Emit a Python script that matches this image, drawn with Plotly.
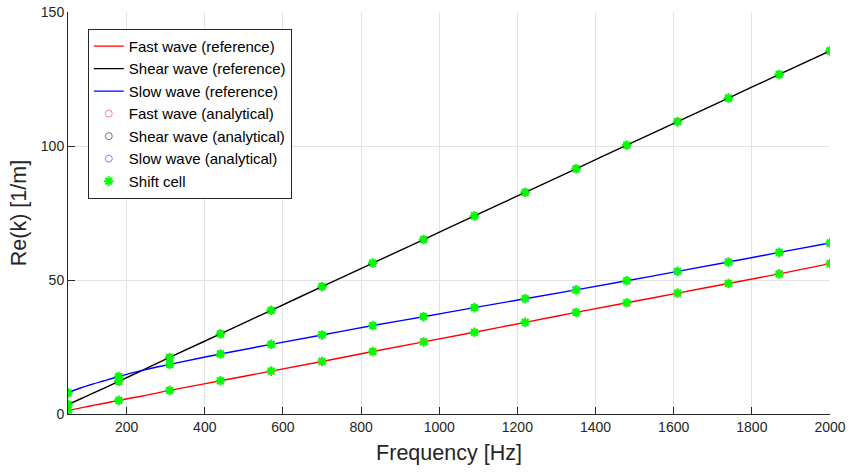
import plotly.graph_objects as go

# Sample frequencies (Hz) for analytical / shift-cell points
freq_pts = [50, 180, 310, 440, 570, 700, 830, 960, 1090, 1220, 1350, 1480, 1610, 1740, 1870, 2000]
fast_pts = [1.4, 5.1, 8.8, 12.4, 16.0, 19.6, 23.3, 26.9, 30.5, 34.2, 37.9, 41.5, 45.1, 48.7, 52.3, 56.1]
shear_pts = [3.5, 12.2, 21.1, 29.9, 38.7, 47.5, 56.3, 65.1, 73.9, 82.7, 91.5, 100.3, 109.1, 117.9, 126.7, 135.5]
slow_pts = [7.9, 14.0, 18.5, 22.4, 26.0, 29.5, 33.0, 36.3, 39.7, 43.0, 46.3, 49.7, 53.2, 56.7, 60.3, 63.8]

# Reference curves (denser at low frequency)
freq_ref = [50, 80, 110, 140, 180, 240, 310, 440, 570, 700, 830, 960, 1090, 1220, 1350, 1480, 1610, 1740, 1870, 2000]
fast_ref = [1.4, 2.2, 3.1, 3.9, 5.1, 6.7, 8.8, 12.4, 16.0, 19.6, 23.3, 26.9, 30.5, 34.2, 37.9, 41.5, 45.1, 48.7, 52.3, 56.1]
shear_ref = [3.5, 5.5, 7.5, 9.5, 12.2, 16.3, 21.1, 29.9, 38.7, 47.5, 56.3, 65.1, 73.9, 82.7, 91.5, 100.3, 109.1, 117.9, 126.7, 135.5]
slow_ref = [7.9, 9.6, 11.0, 12.3, 14.0, 16.3, 18.5, 22.4, 26.0, 29.5, 33.0, 36.3, 39.7, 43.0, 46.3, 49.7, 53.2, 56.7, 60.3, 63.8]

x_ticks = [200, 400, 600, 800, 1000, 1200, 1400, 1600, 1800, 2000]
y_ticks = [0, 50, 100, 150]

FONT = "Liberation Sans, Arial, sans-serif"
AX = "#262626"

fig = go.Figure()
fig.add_trace(go.Scatter(x=freq_ref, y=fast_ref, mode="lines", name="Fast wave (reference)",
                         line=dict(color="#ff0000", width=1.4), line_shape="spline"))
fig.add_trace(go.Scatter(x=freq_ref, y=shear_ref, mode="lines", name="Shear wave (reference)",
                         line=dict(color="#000000", width=1.4), line_shape="spline"))
fig.add_trace(go.Scatter(x=freq_ref, y=slow_ref, mode="lines", name="Slow wave (reference)",
                         line=dict(color="#0000ff", width=1.4), line_shape="spline"))
fig.add_trace(go.Scatter(x=freq_pts, y=fast_pts, mode="markers", name="Fast wave (analytical)",
                         marker=dict(symbol="circle-open", size=7, color="rgba(255,80,80,0.7)", line=dict(width=1))))
fig.add_trace(go.Scatter(x=freq_pts, y=shear_pts, mode="markers", name="Shear wave (analytical)",
                         marker=dict(symbol="circle-open", size=7, color="rgba(60,60,60,0.7)", line=dict(width=1))))
fig.add_trace(go.Scatter(x=freq_pts, y=slow_pts, mode="markers", name="Slow wave (analytical)",
                         marker=dict(symbol="circle-open", size=7, color="rgba(80,80,255,0.7)", line=dict(width=1))))
for i, yy in enumerate([fast_pts, shear_pts, slow_pts]):
    fig.add_trace(go.Scatter(x=freq_pts, y=yy, mode="markers", name="Shift cell",
                             showlegend=(i == 0),
                             marker=dict(symbol="asterisk-open", size=8, color="#00ff00",
                                         line=dict(width=2, color="#00ff00"))))

fig.update_layout(
    width=851, height=472,
    margin=dict(l=68, r=21, t=12, b=58, autoexpand=False),
    paper_bgcolor="white", plot_bgcolor="white",
    font=dict(family=FONT, size=14, color=AX),
    showlegend=True,
    legend=dict(x=0.026, y=0.958, xanchor="left", yanchor="top",
                bgcolor="white", bordercolor="#262626", borderwidth=1,
                font=dict(size=15, color="#000000"), tracegroupgap=0,
                itemwidth=30),
)
fig.update_xaxes(range=[50, 2000], tickvals=x_ticks, showgrid=True, gridcolor="#e3e3e3",
                 showline=True, linecolor=AX, linewidth=1, ticks="inside", ticklen=7,
                 tickcolor=AX, zeroline=False, mirror=False, automargin=False,
                 title=dict(text="Frequency [Hz]", font=dict(size=21.5, color=AX), standoff=11),
                 tickfont=dict(size=14, color=AX))
fig.update_yaxes(range=[0, 150], tickvals=y_ticks, showgrid=True, gridcolor="#e3e3e3",
                 showline=True, linecolor=AX, linewidth=1, ticks="inside", ticklen=7,
                 tickcolor=AX, zeroline=False, mirror=False, automargin=False,
                 title=dict(text="Re(k) [1/m]", font=dict(size=21.5, color=AX), standoff=8),
                 tickfont=dict(size=14, color=AX))

fig.write_html("out.html", config={"displayModeBar": False},
               post_script="document.body.style.margin='0';")
